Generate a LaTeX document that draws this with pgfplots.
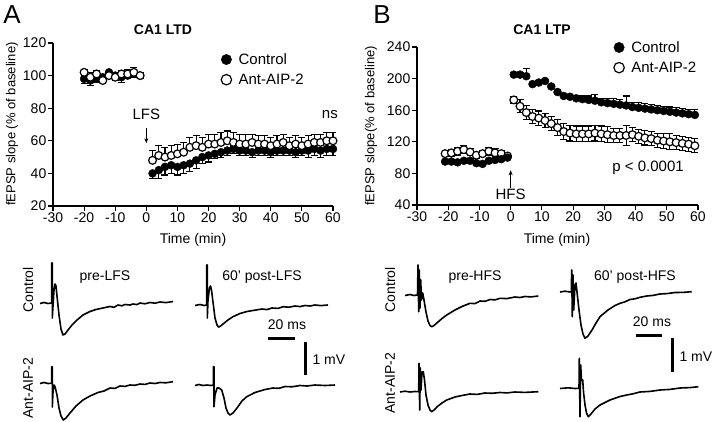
\documentclass[border=0pt]{standalone}
\usepackage{fontspec}
\setmainfont{Liberation Sans}
\usepackage{pgfplots}
\pgfplotsset{compat=1.18}
\usetikzlibrary{arrows.meta}

% GraphPad-like look shared by both time-course panels
\pgfplotsset{
  ephys/.style={
    scale only axis, clip=false,
    axis x line*=bottom, axis y line*=left,
    axis line style={line width=1.2pt,-},
    tick style={line width=1.2pt,black},
    major tick length=5pt, tick align=outside,
    tick label style={font=\fontsize{14}{14}\selectfont},
    yticklabel style={inner sep=1.5pt},
    xticklabel style={inner sep=1.5pt},
    /pgf/number format/assume math mode=true,
    xmin=-30, xmax=60, xtick={-30,-20,...,60},
    legend cell align=left,
    legend style={draw=none, fill=none, anchor=north west,
      font=\fontsize{15}{15}\selectfont, row sep=4pt, inner sep=0pt,
      /tikz/every odd column/.append style={column sep=5pt}},
  },
  ctrl/.style={forget plot, only marks, mark=*, mark size=4pt, black,
    error bars/.cd, y explicit, y dir=#1,
    error bar style={line width=1.1pt},
    error mark options={rotate=90, mark size=3.5pt, line width=1.1pt}},
  ant/.style={forget plot, only marks, mark=*, mark size=3.9pt, black,
    mark options={fill=white, line width=1.2pt},
    error bars/.cd, y explicit, y dir=#1,
    error bar style={line width=1.1pt},
    error mark options={rotate=90, mark size=3.5pt, line width=1.1pt}},
  trace/.style={black, line width=1.6pt, line join=round, no marks},
}

\begin{document}
\begin{tikzpicture}
\useasboundingbox (0,0) rectangle (720pt,422pt);

% ---------------- Panel A: LTD ----------------
\begin{axis}[ephys, at={(53pt,216pt)}, anchor=south west,
  width=280pt, height=163pt, ymin=20, ymax=120, ytick={20,40,...,120},
  legend style={at={(0.6,0.95)}}]
\addlegendimage{only marks, mark=*, mark size=5.2pt, black}
\addlegendentry{Control}
\addlegendimage{only marks, mark=*, mark size=5.2pt, black, mark options={fill=white,line width=1.2pt}}
\addlegendentry{Ant-AIP-2}
\addplot[ctrl=minus] coordinates {
 (-20,98) +- (0,3) (-18,97) +- (0,3) (-16,98) +- (0,2) (-14,99) +- (0,3)
 (-12,102) +- (0,2) (-10,100) +- (0,3) (-8,99) +- (0,3) (-6,100) +- (0,2)
 (-4,101) +- (0,2) (-2,100) +- (0,2)
 (2,40) +- (0,3) (4,42) +- (0,5) (6,44) +- (0,5) (8,45) +- (0,5) (10,44) +- (0,5)
 (12,45) +- (0,5) (14,46) +- (0,5) (16,48) +- (0,5) (18,50) +- (0,4) (20,51) +- (0,4)
 (22,52) +- (0,3) (24,53) +- (0,3) (26,54) +- (0,3) (28,55) +- (0,3) (30,54) +- (0,3)
 (32,54) +- (0,3) (34,53) +- (0,3) (36,54) +- (0,3) (38,54) +- (0,3) (40,53) +- (0,3)
 (42,54) +- (0,3) (44,54) +- (0,3) (46,54) +- (0,3) (48,53) +- (0,3) (50,54) +- (0,3)
 (52,54) +- (0,4) (54,55) +- (0,4) (56,54) +- (0,4) (58,55) +- (0,4) (60,55) +- (0,4)
};
\addplot[ant=plus] coordinates {
 (-20,102) +- (0,2) (-18,99) +- (0,3) (-16,101) +- (0,2) (-14,97) +- (0,3)
 (-12,100) +- (0,2) (-10,99) +- (0,3) (-8,101) +- (0,2) (-6,101) +- (0,3)
 (-4,102) +- (0,3) (-2,100) +- (0,2)
 (2,48) +- (0,6) (4,51) +- (0,6) (6,50) +- (0,6) (8,51) +- (0,6) (10,52) +- (0,6)
 (12,53) +- (0,6) (14,56) +- (0,6) (16,57) +- (0,6) (18,56) +- (0,6) (20,58) +- (0,6)
 (22,58) +- (0,6) (24,59) +- (0,6) (26,60) +- (0,6) (28,59) +- (0,6) (30,58) +- (0,6)
 (32,58) +- (0,6) (34,59) +- (0,5) (36,58) +- (0,5) (38,58) +- (0,5) (40,57) +- (0,5)
 (42,58) +- (0,5) (44,59) +- (0,5) (46,57) +- (0,5) (48,58) +- (0,5) (50,57) +- (0,5)
 (52,58) +- (0,5) (54,59) +- (0,5) (56,59) +- (0,5) (58,60) +- (0,5) (60,60) +- (0,5)
};
\node[font=\fontsize{15}{15}\selectfont] at (axis cs:0,76) {LFS};
\draw[-{Stealth[length=5pt,width=4pt]}, line width=0.8pt] (axis cs:0,68) -- (axis cs:0,58.5);
\node[font=\fontsize{15}{15}\selectfont] at (axis cs:59,76) {ns};
\end{axis}

% ---------------- Panel B: LTP ----------------
\begin{axis}[ephys, at={(417pt,217pt)}, anchor=south west,
  width=281pt, height=158pt, ymin=40, ymax=240, ytick={40,80,...,240},
  legend style={at={(0.70,1.05)}}]
\addlegendimage{only marks, mark=*, mark size=5.2pt, black}
\addlegendentry{Control}
\addlegendimage{only marks, mark=*, mark size=5.2pt, black, mark options={fill=white,line width=1.2pt}}
\addlegendentry{Ant-AIP-2}
\addplot[ant=both] coordinates {
 (-21,105) +- (0,3) (-19,106) +- (0,4) (-17,108) +- (0,5) (-15,110) +- (0,5)
 (-13,107) +- (0,4) (-11,103) +- (0,4) (-9,105) +- (0,4) (-7,108) +- (0,5)
 (-5,106) +- (0,5) (-3,105) +- (0,4) (-1,102) +- (0,3)
 (1,173) +- (0,4) (3,165) +- (0,8) (5,157) +- (0,9) (7,152) +- (0,9) (9,150) +- (0,9)
 (11,147) +- (0,9) (13,143) +- (0,9) (15,138) +- (0,10) (17,133) +- (0,10) (19,131) +- (0,10)
 (21,130) +- (0,10) (23,130) +- (0,10) (25,130) +- (0,10) (27,131) +- (0,10) (29,130) +- (0,10)
 (31,129) +- (0,10) (33,128) +- (0,9) (35,128) +- (0,9) (37,128) +- (0,13) (39,129) +- (0,9)
 (41,127) +- (0,9) (43,125) +- (0,9) (45,124) +- (0,9) (47,122) +- (0,9) (49,121) +- (0,9)
 (51,120) +- (0,10) (53,119) +- (0,9) (55,118) +- (0,9) (57,117) +- (0,9) (59,115) +- (0,9)
};
\addplot[ctrl=plus] coordinates {
 (-21,95) +- (0,2) (-19,95) +- (0,2) (-17,94) +- (0,2) (-15,96) +- (0,2)
 (-13,96) +- (0,2) (-11,93) +- (0,2) (-9,92) +- (0,2) (-7,96) +- (0,2)
 (-5,97) +- (0,2) (-3,98) +- (0,2) (-1,100) +- (0,2)
 (1,205) +- (0,3) (3,205) +- (0,3) (5,203) +- (0,10) (7,193) +- (0,2) (9,195) +- (0,2)
 (11,197) +- (0,2) (13,190) +- (0,2) (15,183) +- (0,2) (17,178) +- (0,3) (19,177) +- (0,3)
 (21,175) +- (0,4) (23,174) +- (0,4) (25,173) +- (0,5) (27,172) +- (0,8) (29,170) +- (0,5)
 (31,169) +- (0,6) (33,168) +- (0,7) (35,167) +- (0,7) (37,166) +- (0,12) (39,164) +- (0,6)
 (41,163) +- (0,7) (43,162) +- (0,6) (45,161) +- (0,6) (47,160) +- (0,6) (49,159) +- (0,6)
 (51,158) +- (0,6) (53,157) +- (0,6) (55,156) +- (0,6) (57,155) +- (0,6) (59,154) +- (0,7)
};
\node[font=\fontsize{15}{15}\selectfont] at (axis cs:0,53) {HFS};
\draw[-{Stealth[length=5pt,width=4pt]}, line width=0.8pt] (axis cs:0,61) -- (axis cs:0,84);
\node[font=\fontsize{15}{15}\selectfont] at (axis cs:44,87) {p < 0.0001};
\end{axis}

% ------------- example traces, labels and scale bars (pixel frame) -------------
\begin{axis}[at={(0,0)}, anchor=south west, scale only axis,
  width=720pt, height=422pt, xmin=0, xmax=720, ymin=0, ymax=422,
  y dir=reverse, hide axis, clip=false]
% panel letters, titles, axis labels
\node[font=\fontsize{26}{26}\selectfont] at (axis cs:12,15) {A};
\node[font=\fontsize{26}{26}\selectfont] at (axis cs:382,15) {B};
\node[font=\bfseries\fontsize{14}{14}\selectfont] at (axis cs:163,30) {CA1 LTD};
\node[font=\bfseries\fontsize{14}{14}\selectfont] at (axis cs:542,30) {CA1 LTP};
\node[rotate=90, font=\fontsize{13}{13}\selectfont] at (axis cs:12,124) {fEPSP slope (\% of baseline)};
\node[rotate=90, font=\fontsize{13}{13}\selectfont] at (axis cs:371,126) {fEPSP slope(\% of baseline)};
\node[font=\fontsize{14}{14}\selectfont] at (axis cs:193,240) {Time (min)};
\node[font=\fontsize{14}{14}\selectfont] at (axis cs:557,240) {Time (min)};
% trace labels
\node[rotate=90, font=\fontsize{14}{14}\selectfont] at (axis cs:28,290) {Control};
\node[rotate=90, font=\fontsize{14}{14}\selectfont] at (axis cs:28,388) {Ant-AIP-2};
\node[rotate=90, font=\fontsize{14}{14}\selectfont] at (axis cs:390,290) {Control};
\node[rotate=90, font=\fontsize{14}{14}\selectfont] at (axis cs:390,383) {Ant-AIP-2};
\node[font=\fontsize{14}{14}\selectfont] at (axis cs:105,277) {pre-LFS};
\node[font=\fontsize{14}{14}\selectfont] at (axis cs:262,277) {60' post-LFS};
\node[font=\fontsize{14}{14}\selectfont] at (axis cs:475,277) {pre-HFS};
\node[font=\fontsize{14}{14}\selectfont] at (axis cs:635,277) {60' post-HFS};
% scale bars
\addplot[black, line width=3pt] coordinates {(268,338) (295,338)};
\addplot[black, line width=3pt] coordinates {(305,342) (305,375)};
\node[font=\fontsize{14}{14}\selectfont] at (axis cs:287,325) {20 ms};
\node[font=\fontsize{14}{14}\selectfont, anchor=west] at (axis cs:309,360) {1 mV};
\addplot[black, line width=3pt] coordinates {(636,335) (662,335)};
\addplot[black, line width=3pt] coordinates {(672,338) (672,372)};
\node[font=\fontsize{14}{14}\selectfont] at (axis cs:652,322) {20 ms};
\node[font=\fontsize{14}{14}\selectfont, anchor=west] at (axis cs:676,357) {1 mV};
% A control pre-LFS
\addplot[trace] coordinates {(40,303.5)(44,302.5)(48,303.5)(51.7,303)(51.7,263)(52.3,263)(52.3,318)(53,306)(54,290)(55,284)(56,286)(57,296)(59,315)(61,329)(63,335)(65,334)(68,330)(72,325)(77,320)(83,315)(90,311.5)(96,309.5)(103,308)(110,306.5)(114,307.3)(118,305)(122,305.8)(125,304.5)(130,305)(133,304)(137,304.6)(140,303)(145,303.8)(150,302.5)(155,303.2)(160,302)(166,302.6)(173,301.5)};
% A control post-LFS
\addplot[trace] coordinates {(195,305.5)(200,304.5)(204,305.5)(206.7,305)(206.7,265)(207.3,265)(207.3,318)(208,300)(209.5,288)(210.5,286)(211.5,290)(213,302)(215,318)(217,325)(218.5,327)(220,326.5)(223,324)(228,320)(233,316.7)(240,313.5)(247,311.5)(253,310.5)(262,309)(267,309.6)(272,308)(278,308.4)(283,306.7)(289,307.2)(295,306)(300,306.6)(305,305.5)(310,306)(315,305)(321,305.6)(328,305)};
% A Ant-AIP-2 pre-LFS
\addplot[trace] coordinates {(40,383.5)(44,382.5)(48,383.5)(51.7,383.3)(51.7,366.7)(52.3,366.7)(52.3,407)(53,392)(54,385)(55,386.5)(57,395)(59,408)(61,416)(63.3,420)(66,418)(70,413)(76,406)(83,400)(90,396)(98,392.5)(104,391)(110,388)(115,388.4)(120,386)(125,386.4)(130,385)(135,385.3)(140,384)(145,384.4)(150,383)(155,383.5)(160,382.5)(166,382.8)(173,381.7)};
% A Ant-AIP-2 post-LFS
\addplot[trace] coordinates {(195,385.5)(199,384.5)(203,385.5)(207,385)(211,385.5)(213.3,385)(213.3,366.7)(214,366.7)(214,406.7)(215,395)(217,388)(219,388)(221.7,390)(224,398)(226,408)(228,413)(230,415)(233,413)(237,408)(242,401)(246.7,396.7)(255,392.5)(265,389.5)(273,388)(279,388.3)(285,386.5)(292,386.8)(300,385.5)(307,386)(315,385)(325,385.5)(335,385)};
% B control pre-HFS
\addplot[trace] coordinates {(405,295.5)(410,294.5)(414,295.5)(417.5,295)(418,265)(418.7,311.7)(419.3,270)(420,308)(420.7,280)(421.5,300)(422.7,293)(424,300)(426,312)(428,321)(430,325.5)(431.7,326.7)(434,325.5)(438,322)(442,318.5)(446.7,315)(455,310)(462,306.5)(470,303.3)(475,303.6)(480,301)(485,301.3)(490,299.5)(495,299.9)(500,298.3)(507,298.6)(515,297)(520,297.5)(525,296.5)(531,296.9)(538.3,296)};
% B control post-HFS
\addplot[trace] coordinates {(560,292)(565,291.2)(570,292)(571.3,291.7)(571.7,270)(572.3,316.7)(573,275)(573.7,310)(575,285)(576,283)(577,292)(579,310)(581,325)(583,334)(585,338.3)(588,336)(592,330)(596,323)(600,316.7)(608,310)(615,305.5)(620,303.3)(625,301.8)(630,299.5)(635,298.8)(640,297.3)(646.7,296)(653,295.4)(660,294)(667,293.6)(675,292.5)(683,292.4)(691.7,291.7)};
% B Ant-AIP-2 pre-HFS
\addplot[trace] coordinates {(400,392)(405,391.2)(410,392)(415,391.5)(418.7,391.7)(419,363.3)(419.7,410)(420.3,368)(421,390)(422,372)(423.3,371.7)(424.5,380)(426,395)(428,405)(430,410)(431.7,411.7)(434,410)(438,406)(442,403)(446.7,400)(455,397)(462,395.5)(470,394)(477,394.4)(485,393)(492,393.3)(500,392.5)(507,392.9)(515,392)(525,392.4)(538.3,391.7)};
% B Ant-AIP-2 post-HFS
\addplot[trace] coordinates {(560,388.5)(568,387.8)(575,388.5)(579,388.3)(579.3,358.3)(580,416.7)(580.7,365)(581.5,380)(582.7,380)(583.5,392)(585,405)(586.5,413)(588.3,416.7)(591,414)(595,409)(600,405)(610,400)(620,396.5)(626.7,395)(633,393.8)(640,392)(650,391.4)(660,390)(670,389.4)(680,388)(690,387.6)(698.3,386.7)};
\end{axis}
\end{tikzpicture}
\end{document}
